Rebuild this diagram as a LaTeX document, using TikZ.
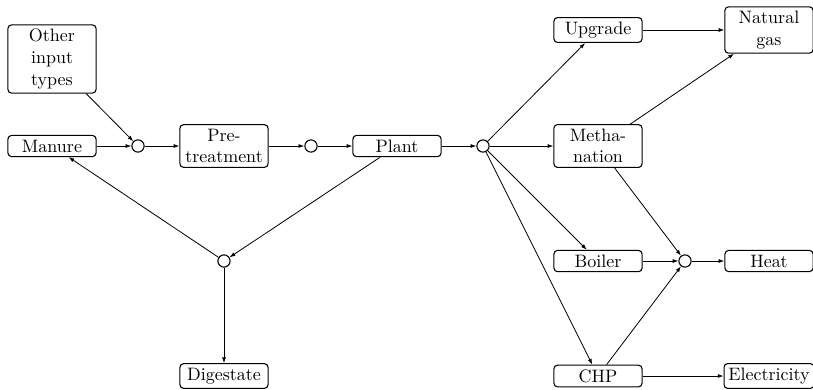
\documentclass[tikz,border=0pt]{standalone}
\usetikzlibrary{arrows.meta}

\begin{document}
\begin{tikzpicture}[
        x=0.556pt, y=-0.556pt,
        box/.style={draw, rounded corners=2pt, minimum width=49pt, inner sep=2.4pt, align=center, line width=0.6pt},
        junc/.style={draw, circle, minimum size=6.8pt, inner sep=0pt, line width=0.6pt},
        flow/.style={draw, line width=0.45pt, -{Latex[length=3.2pt, width=2.2pt]}},
    ]
    \useasboundingbox (0,0) rectangle (813,389);

    \node[box](other) at (52,59){Other\\input\\types};
    \node[box](manure) at (52,146){Manure};
    \node[junc](c1) at (138,146){};
    \node[box](pre) at (224,146){Pre-\\treatment};
    \node[junc](c2) at (311,146){};
    \node[box](plant) at (397,146){Plant};
    \node[junc](c3) at (483,146){};
    \node[junc](c5) at (224,261){};
    \node[box](dig) at (224,376){Digestate};

    \node[box](upgrade) at (598,30){Upgrade};
    \node[box](meth) at (598,146){Metha-\\nation};
    \node[box](boiler) at (598,261){Boiler};
    \node[box](chp) at (598,376){CHP};
    \node[junc](c4) at (685,261){};
    \node[box](gas) at (769,30){Natural\\gas};
    \node[box](heat) at (769,261){Heat};
    \node[box](elec) at (769,376){Electricity};

    \draw[flow] (other) -- (c1);
    \draw[flow] (manure) -- (c1);
    \draw[flow] (c1) -- (pre);
    \draw[flow] (pre) -- (c2);
    \draw[flow] (c2) -- (plant);
    \draw[flow] (plant) -- (c3);
    \draw[flow] (plant) -- (c5);
    \draw[flow] (c5) -- (manure);
    \draw[flow] (c5) -- (dig);

    \draw[flow] (c3) -- (upgrade);
    \draw[flow] (c3) -- (meth);
    \draw[flow] (c3) -- (boiler);
    \draw[flow] (c3) -- (chp);
    \draw[flow] (upgrade) -- (gas);
    \draw[flow] (meth) -- (gas);
    \draw[flow] (meth) -- (c4);
    \draw[flow] (boiler) -- (c4);
    \draw[flow] (chp) -- (c4);
    \draw[flow] (c4) -- (heat);
    \draw[flow] (chp) -- (elec);
\end{tikzpicture}
\end{document}
